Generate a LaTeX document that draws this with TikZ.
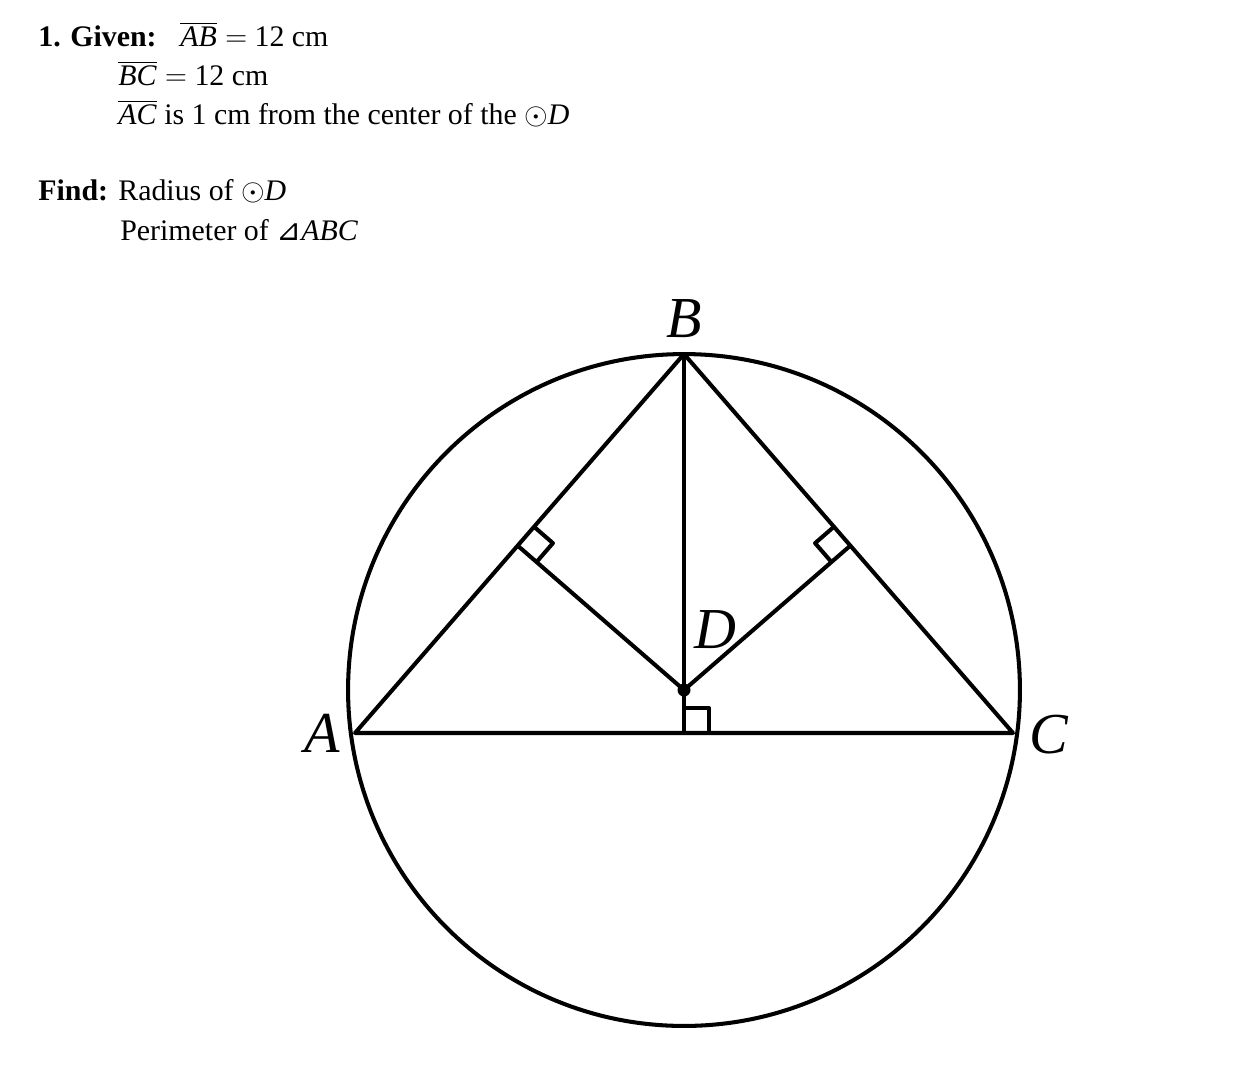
\documentclass[tikz,border=0pt]{standalone}
\usepackage{fontspec}
\setmainfont{Liberation Serif}
\newfontfamily\trifont{DejaVu Sans}
\usetikzlibrary{calc,positioning}
\newcommand{\ptname}[1]{\mbox{\itshape #1\/}}
\tikzstyle{seg} =[line width=2.3pt, line join=round]
\tikzstyle{txt} =[anchor=base west, inner sep=0pt,
                  font=\fontsize{17}{20}\selectfont]
\tikzstyle{lbl} =[inner sep=0pt, font=\fontsize{33}{38}\selectfont\itshape]

\begin{document}
\begin{tikzpicture}[x=0.02cm, y=-0.02cm]
\useasboundingbox (0,0) rectangle (1244,1090);
% problem text
\node[txt] (num) at (38,46) {\textbf{1.}};
\node[txt] (given) at (70,46) {\textbf{Given:}};
\node[txt] (ab) at (180,46) {$\overline{\ptname{AB}} =$ 12 cm};
\node[txt] (bc) at (118,85) {$\overline{\ptname{BC}} =$ 12 cm};
\node[txt] (ac) at (118,124) {$\overline{\ptname{AC}}$ is 1 cm from the center of the $\odot$\ptname{D}};
\node[txt] (find) at (38,200) {\textbf{Find:}};
\node[txt] (rad) at (118,200) {Radius of $\odot$\ptname{D}};
\node[txt] (per) at (120,240) {Perimeter of {\trifont ⊿}\ptname{ABC}};
% points
\coordinate (A) at (355,733);
\coordinate (B) at (684,354);
\coordinate (C) at (1013,733);
\coordinate (D) at (684,690);
\coordinate (E) at ($(A)!(D)!(B)$);
\coordinate (F) at ($(C)!(D)!(B)$);
\coordinate (G) at ($(A)!(D)!(C)$);
% circle and triangle
\draw[seg] (D) circle (6.72cm);
\draw[seg] (A) -- (B) -- (C) -- cycle;
\draw[seg] (B) -- (G);
\draw[seg] (E) -- (D) -- (F);
\fill (D) circle (0.13cm);
% right angle marks
\foreach \f/\p/\q in {E/B/D, F/B/D, G/C/D}{
  \draw[seg] ($(\f)!0.5cm!(\p)$) -- ($(\f)!0.5cm!(\p) + (\f)!0.5cm!(\q) - (\f)$)
    -- ($(\f)!0.5cm!(\q)$); }
% labels
\node[lbl] (lA) at (322,733) {A};
\node[lbl] (lB) at (684,319) {B};
\node[lbl] (lC) at (1049,735) {C};
\node[lbl] (lD) at (715,630) {D};
\end{tikzpicture}
\end{document}
